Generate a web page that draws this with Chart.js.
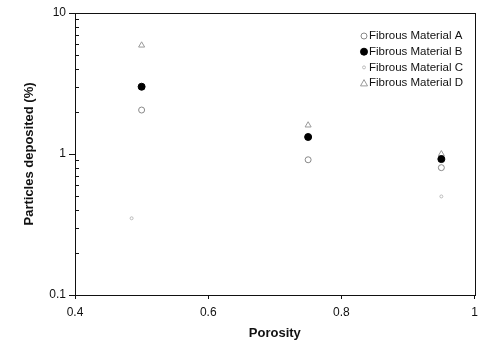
<!DOCTYPE html>
<html>
<head>
<meta charset="utf-8">
<script src="https://cdn.jsdelivr.net/npm/chart.js@4/dist/chart.umd.min.js"></script>
<style>
  html, body { margin: 0; padding: 0; background: #fff; }
  #wrap { width: 484px; height: 343px; }
</style>
</head>
<body>
<div id="wrap"><canvas id="chart" width="484" height="343"></canvas></div>
<script>
// Series data (porosity, % deposited)
const seriesNames = ['Fibrous Material A', 'Fibrous Material B', 'Fibrous Material C', 'Fibrous Material D'];
const porosityA = [0.5, 0.75, 0.95];
const depositA = [2.05, 0.91, 0.80];
const porosityB = [0.5, 0.75, 0.95];
const depositB = [3.0, 1.32, 0.92];
const porosityC = [0.485, 0.95];
const depositC = [0.35, 0.50];
const porosityD = [0.5, 0.75, 0.95];
const depositD = [5.9, 1.6, 1.0];
const xTickLabels = ['0.4', '0.6', '0.8', '1'];
const yTickLabels = ['0.1', '1', '10'];
const yMinorTicks = [0.2, 0.3, 0.4, 0.5, 0.6, 0.7, 0.8, 0.9, 2, 3, 4, 5, 6, 7, 8, 9];

const FONT = '"Liberation Sans", Arial, sans-serif';
const toPoints = (xs, ys) => xs.map((x, i) => ({ x: x, y: ys[i] }));

// Cadre autour de la zone de tracé + petites graduations log vers l'intérieur
const boxPlugin = {
    id: 'box',
    afterDraw(chart) {
        const a = chart.chartArea;
        const ctx = chart.ctx;
        const yScale = chart.scales.y;
        ctx.save();
        ctx.strokeStyle = '#111';
        ctx.lineWidth = 1;
        ctx.strokeRect(Math.round(a.left) + 0.5, Math.round(a.top) + 0.5,
            Math.round(a.right - a.left), Math.round(a.bottom - a.top));
        ctx.beginPath();
        yMinorTicks.forEach(v => {
            const py = Math.round(yScale.getPixelForValue(v)) + 0.5;
            ctx.moveTo(Math.round(a.left), py);
            ctx.lineTo(Math.round(a.left) + 4, py);
        });
        ctx.stroke();
        ctx.restore();
    }
};

// Légende dans la zone de tracé, en haut à droite
const insideLegend = {
    id: 'insideLegend',
    afterDraw(chart) {
        const ctx = chart.ctx;
        ctx.save();
        ctx.font = '11.5px ' + FONT;
        ctx.textBaseline = 'middle';
        chart.data.datasets.forEach((ds, i) => {
            const y = 36 + i * 15.7;
            const mx = 364;
            ctx.fillStyle = ds.pointBackgroundColor;
            ctx.strokeStyle = ds.borderColor;
            ctx.lineWidth = ds.borderWidth;
            ctx.beginPath();
            if (ds.pointStyle === 'triangle') {
                const r = ds.pointRadius;
                ctx.moveTo(mx, y - r);
                ctx.lineTo(mx + r, y + r * 0.8);
                ctx.lineTo(mx - r, y + r * 0.8);
                ctx.closePath();
            } else {
                ctx.arc(mx, y, ds.pointRadius, 0, Math.PI * 2);
            }
            ctx.fill();
            ctx.stroke();
            ctx.fillStyle = '#111';
            ctx.fillText(ds.label, 369, y);
        });
        ctx.restore();
    }
};

const ctx = document.getElementById('chart').getContext('2d');
const chart = new Chart(ctx, {
    type: 'scatter',
    data: {
        datasets: [{
            label: seriesNames[0],
            data: toPoints(porosityA, depositA),
            pointStyle: 'circle',
            pointRadius: 3,
            borderWidth: 1,
            borderColor: '#888',
            backgroundColor: '#fff',
            pointBackgroundColor: '#fff'
        }, {
            label: seriesNames[1],
            data: toPoints(porosityB, depositB),
            pointStyle: 'circle',
            pointRadius: 3.5,
            borderWidth: 1,
            borderColor: '#000',
            backgroundColor: '#000',
            pointBackgroundColor: '#000'
        }, {
            label: seriesNames[2],
            data: toPoints(porosityC, depositC),
            pointStyle: 'circle',
            pointRadius: 1.5,
            borderWidth: 1,
            borderColor: '#bbb',
            backgroundColor: '#fff',
            pointBackgroundColor: '#fff'
        }, {
            label: seriesNames[3],
            data: toPoints(porosityD, depositD),
            pointStyle: 'triangle',
            pointRadius: 3.5,
            borderWidth: 1,
            borderColor: '#999',
            backgroundColor: '#fff',
            pointBackgroundColor: '#fff'
        }]
    },
    options: {
        responsive: false,
        animation: false,
        layout: { padding: { top: 13, right: 9, bottom: 0, left: 0 } },
        plugins: {
            legend: { display: false },
            tooltip: { enabled: false }
        },
        scales: {
            x: {
                type: 'linear',
                min: 0.4,
                max: 1,
                afterBuildTicks: (axis) => {
                    axis.ticks = xTickLabels.map(v => ({ value: parseFloat(v) }));
                },
                afterFit: (axis) => { axis.height = 48; },
                ticks: {
                    color: '#111',
                    font: { family: FONT, size: 12 },
                    padding: 6,
                    maxRotation: 0,
                    callback: (v) => xTickLabels.find(t => parseFloat(t) === v)
                },
                grid: { drawOnChartArea: false, tickLength: 4, color: '#111' },
                border: { color: '#111' },
                title: {
                    display: true,
                    text: 'Porosity',
                    color: '#111',
                    font: { family: FONT, size: 13, weight: 'bold' },
                    padding: { top: 2, bottom: 2 }
                }
            },
            y: {
                type: 'logarithmic',
                min: 0.1,
                max: 10,
                afterBuildTicks: (axis) => {
                    axis.ticks = yTickLabels.map(v => ({ value: parseFloat(v) }));
                },
                afterFit: (axis) => { axis.width = 75; },
                ticks: {
                    color: '#111',
                    font: { family: FONT, size: 12 },
                    padding: 3,
                    callback: (v) => yTickLabels.find(t => parseFloat(t) === v)
                },
                grid: { drawOnChartArea: false, tickLength: 6, color: '#111' },
                border: { color: '#111' },
                title: {
                    display: true,
                    text: 'Particles deposited (%)',
                    color: '#111',
                    font: { family: FONT, size: 13, weight: 'bold' },
                    padding: { top: 22, bottom: 0 }
                }
            }
        }
    },
    plugins: [boxPlugin, insideLegend]
});
</script>
</body>
</html>
